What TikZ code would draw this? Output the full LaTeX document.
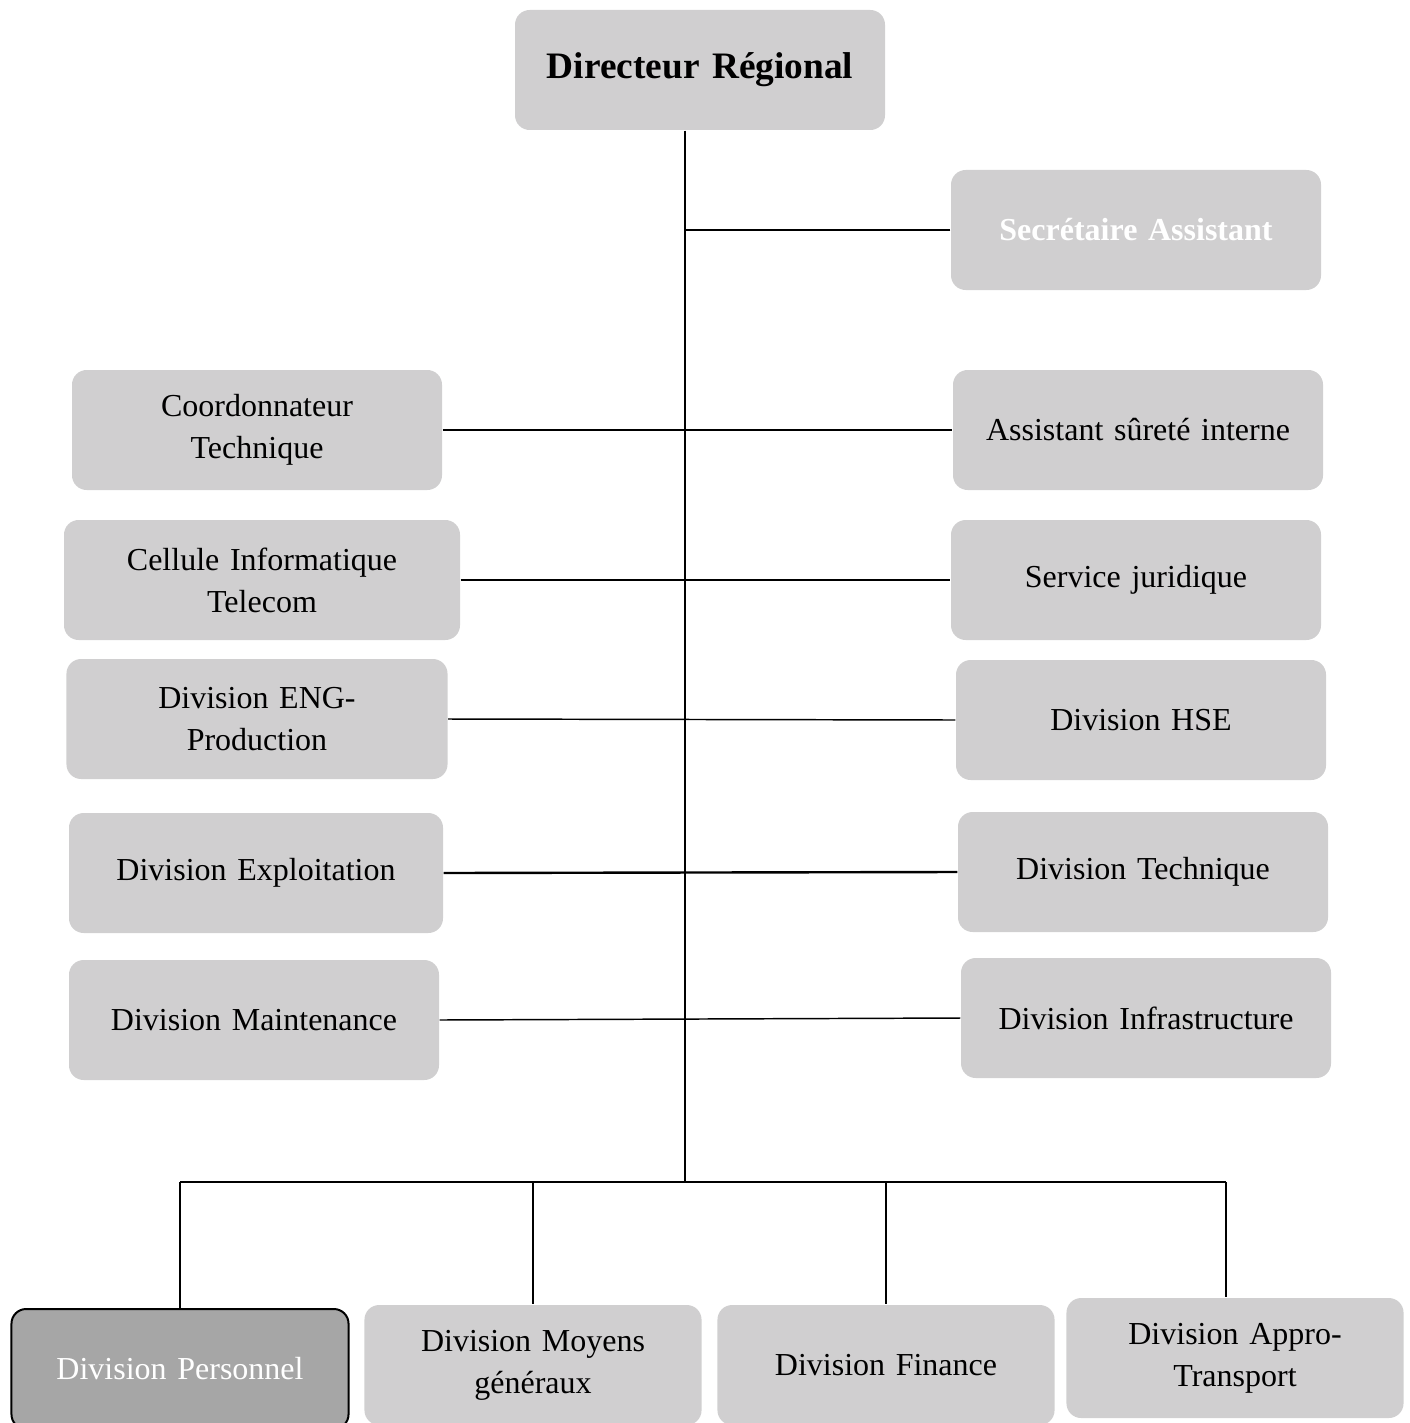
\documentclass[tikz,border=0pt]{standalone}
\usepackage{fontspec}
\setmainfont{Liberation Serif}
\definecolor{boxgris}{HTML}{D0CFD0}
\definecolor{boxfonce}{HTML}{A6A6A6}
\tikzset{
  poste/.style={fill=boxgris, rounded corners=5.5pt, minimum height=45pt, inner sep=4pt,
    align=center, text width=130.75pt, font=\fontsize{12}{15.75}\selectfont},
  bas/.style={poste, text width=118.4pt},
  liaison/.style={line width=0.55pt},
  tronc/.style={line width=1.1pt}
}
\begin{document}
\begin{tikzpicture}[x=0.375pt, y=-0.375pt]
  \useasboundingbox (0,0) rectangle (1410,1423);

  % direction
  \node[poste, font=\bfseries\fontsize{14}{17}\selectfont] (dir) at (700,70) {Directeur Régional};
  \node[poste, font=\bfseries\fontsize{12}{15.75}\selectfont, text=white] (sec) at (1136,230) {Secrétaire Assistant};

  % colonne gauche
  \node[poste] (coord) at (257,430) {Coordonnateur\\Technique};
  \node[poste, text width=140.5pt] (cell) at (262,580) {Cellule Informatique\\Telecom};
  \node[poste, text width=134.9pt] (eng) at (257,719) {Division ENG-\\Production};
  \node[poste, text width=132.25pt] (expl) at (256,873) {Division Exploitation};
  \node[poste] (maint) at (254,1020) {Division Maintenance};

  % colonne droite
  \node[poste] (asi) at (1138,430) {Assistant sûreté interne};
  \node[poste] (jur) at (1136,580) {Service juridique};
  \node[poste] (hse) at (1141,720) {Division HSE};
  \node[poste] (tech) at (1143,872) {Division Technique};
  \node[poste] (infra) at (1146,1018) {Division Infrastructure};

  % divisions du bas
  \node[bas, fill=boxfonce, draw=black, line width=0.75pt, text=white] (pers) at (180,1369) {Division Personnel};
  \node[bas] (moy) at (533,1365) {Division Moyens\\généraux};
  \node[bas] (fin) at (886,1365) {Division Finance};
  \node[bas] (appro) at (1235,1358) {Division Appro-\\Transport};

  % tronc et barre du bas
  \coordinate (bas) at (685,1182);
  \coordinate (bg) at (180,1182);
  \coordinate (bd) at (1226,1182);
  \draw[tronc] (dir.south -| bas) -- (bas);
  \draw[tronc] (bg) -- (bd);

  % liaisons horizontales
  \draw[liaison] (sec.west) -- (sec.west -| bas);
  \draw[liaison] (coord.east) -- (asi.west);
  \draw[liaison] (cell.east) -- (jur.west);
  \draw[liaison] (eng.east) -- (hse.west);
  \draw[liaison, line width=0.9pt] (expl.east) -- (tech.west);
  \draw[liaison] (maint.east) -- (infra.west);

  % descentes
  \draw[liaison] (bg) -- (pers.north);
  \draw[liaison] (moy.north |- bas) -- (moy.north);
  \draw[liaison] (fin.north |- bas) -- (fin.north);
  \draw[liaison] (bd) -- (bd |- appro.north);
\end{tikzpicture}
\end{document}
